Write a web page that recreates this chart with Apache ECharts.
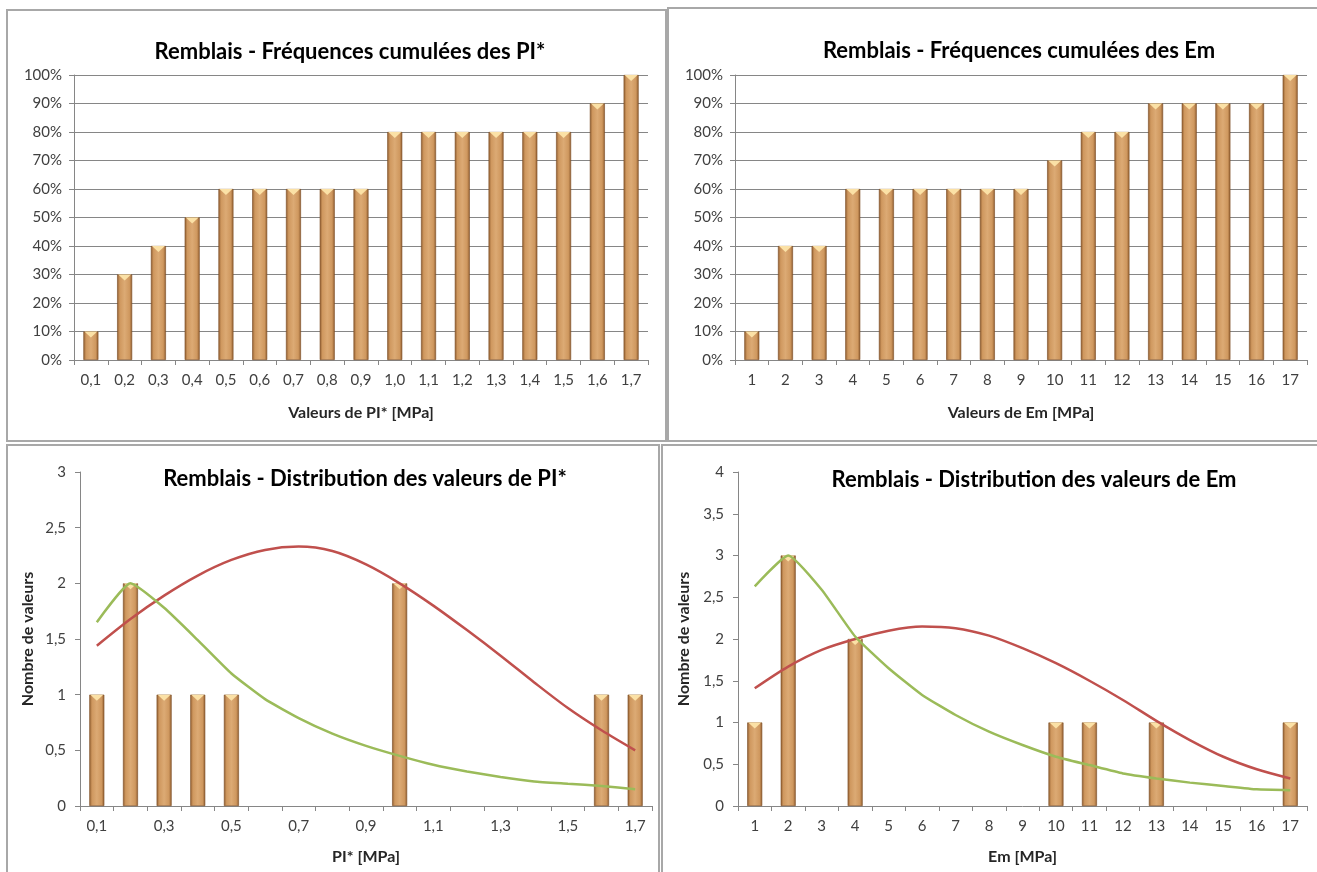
<!DOCTYPE html>
<html>
<head>
<meta charset="utf-8">
<script src="https://cdn.jsdelivr.net/npm/echarts@6/dist/echarts.min.js"></script>
<style>
html,body{margin:0;padding:0;background:#fff;}
#c{width:1317px;height:872px;}
</style>
</head>
<body>
<div id="c"></div>
<script>
// ---- Data ----
const piCats = ['0,1','0,2','0,3','0,4','0,5','0,6','0,7','0,8','0,9','1,0','1,1','1,2','1,3','1,4','1,5','1,6','1,7'];
const emCats = ['1','2','3','4','5','6','7','8','9','10','11','12','13','14','15','16','17'];
const piCumul = [10,30,40,50,60,60,60,60,60,80,80,80,80,80,80,90,100];
const emCumul = [10,40,40,60,60,60,60,60,60,70,80,80,90,90,90,90,100];
const piCounts = [1,2,1,1,1,0,0,0,0,2,0,0,0,0,0,1,1];
const emCounts = [1,3,0,2,0,0,0,0,0,1,1,0,1,0,0,0,1];
const piNormal = [1.44,1.68,1.89,2.07,2.21,2.30,2.33,2.29,2.17,2.0,1.80,1.58,1.35,1.11,0.88,0.68,0.50];
const piLognormal = [1.65,2.0,1.78,1.49,1.19,0.96,0.79,0.65,0.54,0.45,0.37,0.31,0.26,0.22,0.20,0.18,0.15];
const emNormal = [1.41,1.67,1.87,2.0,2.10,2.15,2.13,2.04,1.89,1.71,1.50,1.27,1.02,0.79,0.59,0.44,0.33];
const emLognormal = [2.63,3.0,2.59,2.03,1.65,1.33,1.09,0.89,0.73,0.59,0.49,0.39,0.33,0.28,0.24,0.20,0.19];
const titles = ['Remblais - Fréquences cumulées des PI*','Remblais - Fréquences cumulées des Em','Remblais - Distribution des valeurs de PI*','Remblais - Distribution des valeurs de Em'];
const xNames = ['Valeurs de PI* [MPa]','Valeurs de Em [MPa]','PI* [MPa]','Em [MPa]'];
const yName = 'Nombre de valeurs';

// ---- Styling ----
const FONT = 'Lato';
const axisGray = '#868686';
const barFill = {
  type:'linear', x:0, y:0, x2:1, y2:0,
  colorStops:[
    {offset:0, color:'#8f5c2e'},
    {offset:0.18, color:'#cf985f'},
    {offset:0.5, color:'#dcaa74'},
    {offset:0.82, color:'#cf985f'},
    {offset:1, color:'#8f5c2e'}
  ]
};
const capPath = 'path://M0,0 L10,0 L5,6 Z';

function barSeries(data, idx){
  const shown = data.map(v => v > 0 ? v : '-');
  return [{
    type:'bar', xAxisIndex:idx, yAxisIndex:idx, data:shown, barWidth:15,
    itemStyle:{color:barFill, borderColor:'#7a4c24', borderWidth:0.6},
    silent:true, z:2
  },{
    type:'pictorialBar', xAxisIndex:idx, yAxisIndex:idx,
    data:shown,
    symbol:capPath, symbolSize:[13,6], symbolPosition:'end',
    symbolOffset:[0,0], barGap:'-100%',
    itemStyle:{color:'#fbe1a6'}, silent:true, z:3
  }];
}

function lineSeries(data, idx, color, smooth){
  return {
    type:'line', xAxisIndex:idx, yAxisIndex:idx, data:data, smooth:smooth,
    symbol:'none', lineStyle:{color:color, width:2.5}, silent:true, z:4
  };
}

const labelStyle = {color:'#404040', fontFamily:FONT, fontSize:15};
const nameStyle = {color:'#262626', fontFamily:FONT, fontSize:16, fontWeight:'bold'};
const commaFmt = v => String(v).replace('.', ',');

const grids = [
  {left:74, top:75, width:574, height:285},
  {left:735, top:75, width:572, height:285},
  {left:80, top:472, width:572, height:334},
  {left:738, top:472, width:569, height:334}
];

const xAxes = [0,1,2,3].map(i => ({
  type:'category', gridIndex:i, data: (i % 2 === 0) ? piCats : emCats,
  boundaryGap:true,
  axisLine:{lineStyle:{color:axisGray, width:1}},
  axisTick:{show:true, interval:0, length:5, lineStyle:{color:axisGray}},
  axisLabel:Object.assign({interval: i === 2 ? 1 : 0, margin:13}, labelStyle),
  name:xNames[i], nameLocation:'middle', nameGap: i < 2 ? 45 : 43,
  nameTextStyle:nameStyle
}));

const yAxes = [
  {type:'value', gridIndex:0, min:0, max:100, interval:10,
   axisLabel:Object.assign({formatter:'{value}%', margin:12}, labelStyle),
   axisLine:{show:true, lineStyle:{color:axisGray}},
   axisTick:{show:true, length:5, lineStyle:{color:axisGray}},
   splitLine:{show:true, lineStyle:{color:axisGray, width:1}}},
  {type:'value', gridIndex:1, min:0, max:100, interval:10,
   axisLabel:Object.assign({formatter:'{value}%', margin:12}, labelStyle),
   axisLine:{show:true, lineStyle:{color:axisGray}},
   axisTick:{show:true, length:5, lineStyle:{color:axisGray}},
   splitLine:{show:true, lineStyle:{color:axisGray, width:1}}},
  {type:'value', gridIndex:2, min:0, max:3, interval:0.5,
   axisLabel:Object.assign({formatter:commaFmt, margin:14}, labelStyle),
   axisLine:{show:true, lineStyle:{color:axisGray}},
   axisTick:{show:true, length:5, lineStyle:{color:axisGray}},
   splitLine:{show:false},
   name:yName, nameLocation:'middle', nameGap:44, nameTextStyle:nameStyle},
  {type:'value', gridIndex:3, min:0, max:4, interval:0.5,
   axisLabel:Object.assign({formatter:commaFmt, margin:14}, labelStyle),
   axisLine:{show:true, lineStyle:{color:axisGray}},
   axisTick:{show:true, length:5, lineStyle:{color:axisGray}},
   splitLine:{show:false},
   name:yName, nameLocation:'middle', nameGap:46, nameTextStyle:nameStyle}
];

const titlePos = [[345,36],[1014,35],[360,463],[1029,464]];
const title = titles.map((t,i) => ({
  text:t, left:titlePos[i][0], top:titlePos[i][1], textAlign:'center',
  textStyle:{fontFamily:FONT, fontSize:22, fontWeight:'bold', color:'#000'}
}));

const borders = [[7,10,659,431],[668,8,660,433],[7,445,652,440],[662,445,660,440]];
const graphic = borders.map(b => ({
  type:'rect', shape:{x:b[0], y:b[1], width:b[2], height:b[3]},
  style:{fill:'none', stroke:'#a8a8a8', lineWidth:2}, silent:true, z:-1
}));

const series = [].concat(
  barSeries(piCumul, 0),
  barSeries(emCumul, 1),
  barSeries(piCounts, 2),
  [lineSeries(piNormal, 2, '#c0504d', 0.3), lineSeries(piLognormal, 2, '#9bbb59', 0.15)],
  barSeries(emCounts, 3),
  [lineSeries(emNormal, 3, '#c0504d', 0.3), lineSeries(emLognormal, 3, '#9bbb59', 0.15)]
);

const chart = echarts.init(document.getElementById('c'), null, {renderer:'canvas'});
chart.setOption({
  animation:false,
  backgroundColor:'#ffffff',
  title:title,
  grid:grids,
  xAxis:xAxes,
  yAxis:yAxes,
  graphic:graphic,
  series:series
});
</script>
</body>
</html>
